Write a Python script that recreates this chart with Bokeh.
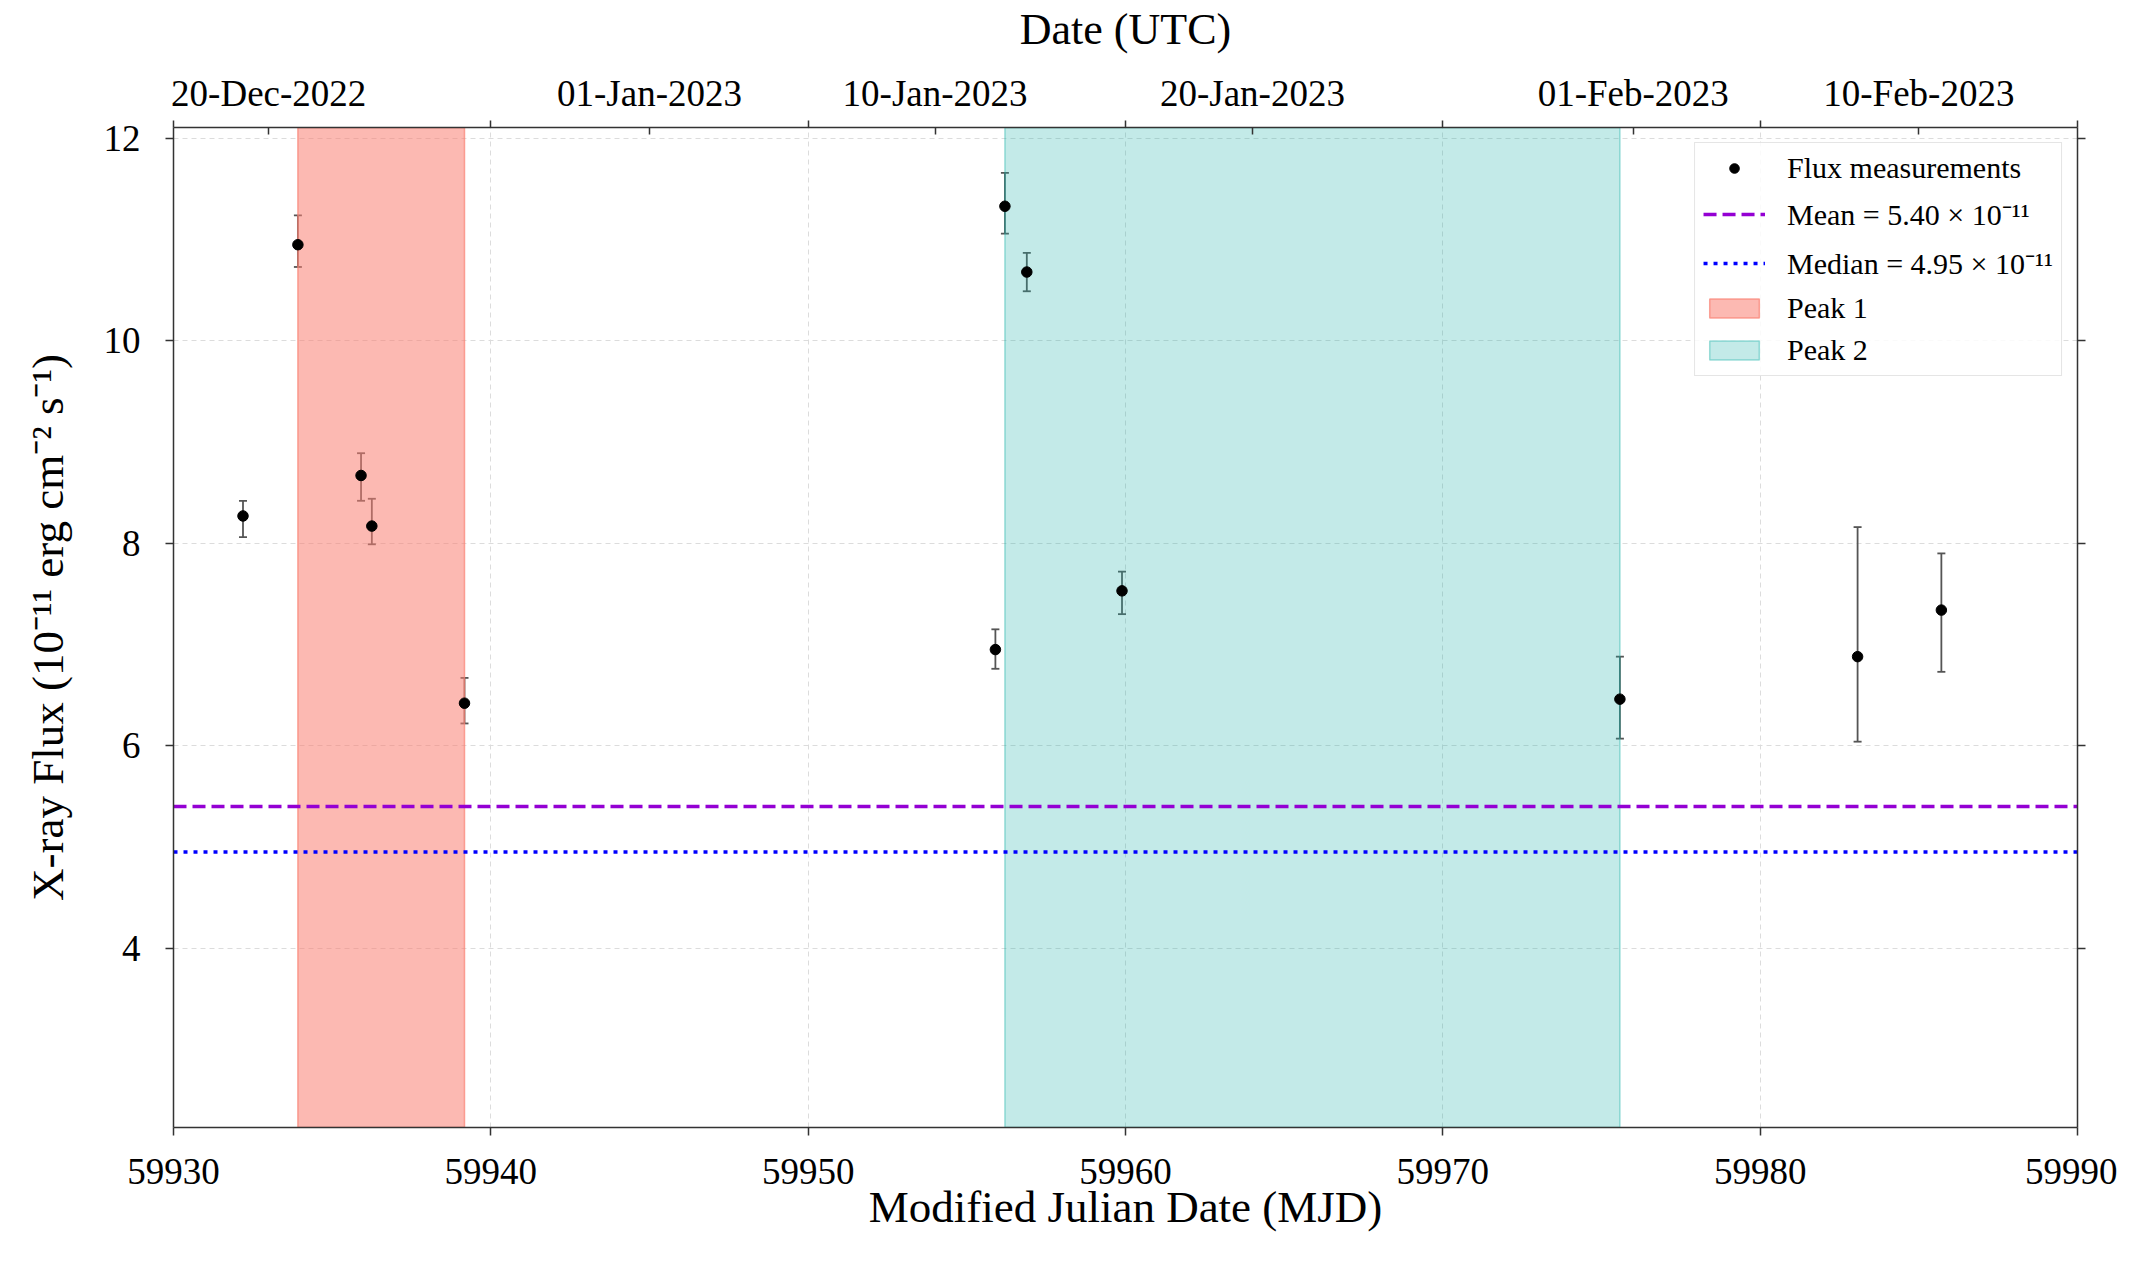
import datetime as dt
from bokeh.plotting import figure
from bokeh.models import (LinearAxis, FixedTicker, Whisker, TeeHead, ColumnDataSource,
                          Legend, LegendItem, Range1d)
from bokeh.embed import file_html
from bokeh.resources import INLINE

# ---------------- data ----------------
mjd = [59932.19, 59933.92, 59935.91, 59936.25, 59939.17, 59955.90, 59956.20,
       59956.89, 59959.89, 59975.58, 59983.07, 59985.71]
flux = [8.27, 10.95, 8.67, 8.17, 6.42, 6.95, 11.33, 10.68, 7.53, 6.46, 6.88, 7.34]
flux_hi = [8.42, 11.24, 8.89, 8.44, 6.67, 7.15, 11.66, 10.87, 7.72, 6.88, 8.16, 7.90]
flux_lo = [8.06, 10.73, 8.42, 7.99, 6.22, 6.76, 11.06, 10.49, 7.30, 6.07, 6.04, 6.73]

mean_flux = 5.40
median_flux = 4.95

peak_names = ["Peak 1", "Peak 2"]
peak_start = [59933.92, 59956.20]
peak_end = [59939.17, 59975.58]

x_ticks = [59930, 59940, 59950, 59960, 59970, 59980, 59990]
y_ticks = [4, 6, 8, 10, 12]
date_labels = ["20-Dec-2022", "01-Jan-2023", "10-Jan-2023", "20-Jan-2023",
               "01-Feb-2023", "10-Feb-2023"]

X_MIN, X_MAX = 59930, 59990
Y_MIN, Y_MAX = 2.228, 12.108

MJD0 = dt.date(1858, 11, 17)
date_ticks = [(dt.datetime.strptime(s, "%d-%b-%Y").date() - MJD0).days for s in date_labels]

FONT = "Liberation Serif"
AXC = "#333333"

p = figure(width=2117, height=1263, output_backend="svg", toolbar_location=None,
           x_range=Range1d(X_MIN, X_MAX), y_range=Range1d(Y_MIN, Y_MAX),
           min_border_left=173, min_border_right=40, min_border_top=127,
           min_border_bottom=136)
p.outline_line_color = None
p.background_fill_color = "white"

# spans
span_colors = ["#FA8072", "#20B2AA"]
span_alphas = [0.55, 0.27]
span_r = []
for i in range(2):
    r = p.quad(left=[peak_start[i]], right=[peak_end[i]], bottom=[Y_MIN], top=[Y_MAX],
               fill_color=span_colors[i], fill_alpha=span_alphas[i],
               line_color=span_colors[i], line_alpha=span_alphas[i] + 0.15, line_width=1.5)
    span_r.append(r)

# mean / median
mean_r = p.line([X_MIN, X_MAX], [mean_flux, mean_flux], line_color="#9400D3",
                line_width=3.5, line_dash="13 6")
median_r = p.line([X_MIN, X_MAX], [median_flux, median_flux], line_color="#0000FF",
                  line_width=3.5, line_dash="4 6")

# error bars
src = ColumnDataSource(dict(x=mjd, y=flux, hi=flux_hi, lo=flux_lo))
wh = Whisker(source=src, base="x", upper="hi", lower="lo", dimension="height",
             line_color="#555555", line_width=1.8,
             upper_head=TeeHead(size=8, line_color="#555555", line_width=1.8),
             lower_head=TeeHead(size=8, line_color="#555555", line_width=1.8))
p.add_layout(wh)
pts = p.scatter("x", "y", source=src, size=10.5, color="black")

# grid
p.xgrid.ticker = FixedTicker(ticks=x_ticks)
p.ygrid.ticker = FixedTicker(ticks=y_ticks)
for g in (p.xgrid, p.ygrid):
    g.grid_line_color = "#dcdcdc"
    g.grid_line_dash = "5 4"
    g.grid_line_width = 1

def style(ax, tick_in=0, tick_out=8):
    ax.axis_line_color = AXC
    ax.axis_line_width = 1.5
    ax.major_tick_line_color = AXC
    ax.major_tick_line_width = 1.5
    ax.major_tick_in = tick_in
    ax.major_tick_out = tick_out
    ax.minor_tick_line_color = AXC
    ax.minor_tick_line_width = 1.5
    ax.major_label_text_font = FONT
    ax.major_label_text_font_size = "37px"
    ax.major_label_text_color = "black"
    ax.axis_label_text_font = FONT
    ax.axis_label_text_font_size = "45px"
    ax.axis_label_text_font_style = "normal"
    ax.axis_label_text_color = "black"

xa = p.xaxis[0]
xa.ticker = FixedTicker(ticks=x_ticks)
xa.axis_label = "Modified Julian Date (MJD)"
style(xa)
xa.minor_tick_out = 0
xa.major_label_standoff = 23
xa.axis_label_standoff = -5

ya = p.yaxis[0]
ya.ticker = FixedTicker(ticks=y_ticks)
ya.axis_label = "X-ray Flux (10\u207b\u00b9\u00b9 erg cm\u207b\u00b2 s\u207b\u00b9)"
style(ya)
ya.minor_tick_out = 0
ya.major_label_standoff = 25
ya.axis_label_standoff = 28

ra = LinearAxis(ticker=FixedTicker(ticks=y_ticks))
style(ra)
ra.minor_tick_out = 0
ra.major_label_text_font_size = "0px"
ra.major_label_text_alpha = 0
p.add_layout(ra, "right")

ta = LinearAxis(ticker=FixedTicker(ticks=date_ticks, minor_ticks=x_ticks),
                major_label_overrides={t: s for t, s in zip(date_ticks, date_labels)},
                axis_label="Date (UTC)")
style(ta, tick_in=7, tick_out=0)
ta.minor_tick_in = 0
ta.minor_tick_out = 7
ta.axis_label_text_font_size = "44px"
ta.major_label_standoff = 7
ta.axis_label_standoff = 16
p.add_layout(ta, "above")

legend = Legend(items=[
    LegendItem(label="Flux measurements", renderers=[pts]),
    LegendItem(label="Mean = 5.40 \u00d7 10\u207b\u00b9\u00b9", renderers=[mean_r]),
    LegendItem(label="Median = 4.95 \u00d7 10\u207b\u00b9\u00b9", renderers=[median_r]),
    LegendItem(label=peak_names[0], renderers=[span_r[0]]),
    LegendItem(label=peak_names[1], renderers=[span_r[1]]),
], location="top_right")
legend.label_text_font = FONT
legend.label_text_font_size = "30px"
legend.label_text_color = "black"
legend.glyph_width = 62
legend.glyph_height = 24
legend.label_height = 24
legend.spacing = 8
legend.padding = 8
legend.margin = 15
legend.label_standoff = 22
legend.border_line_color = "#cccccc"
legend.border_line_width = 1.5
legend.background_fill_alpha = 0.85
p.add_layout(legend)

open("out.html", "w").write(file_html(p, INLINE))
